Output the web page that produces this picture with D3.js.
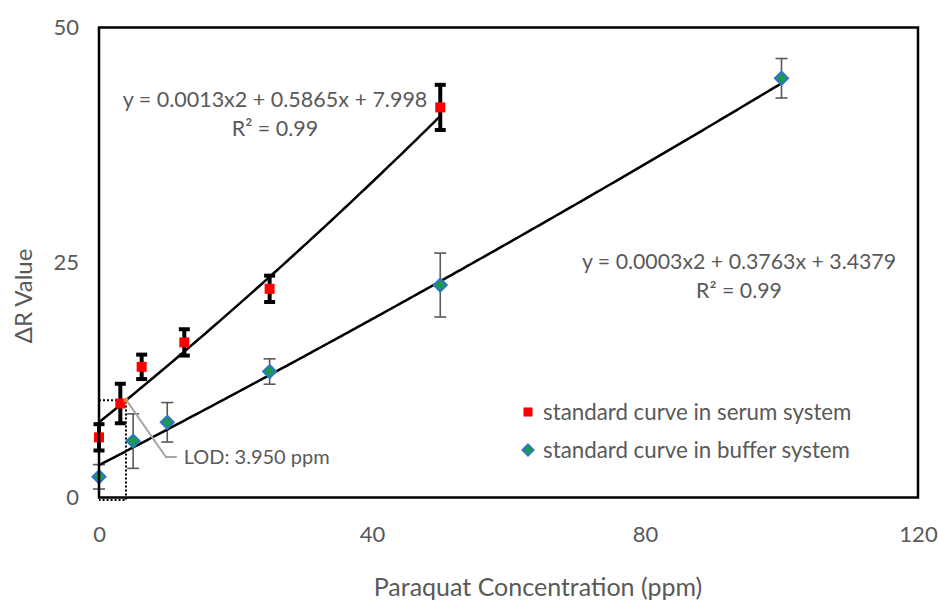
<!DOCTYPE html>
<html lang="en">
<head>
    <meta charset="UTF-8">
    <title>Paraquat standard curves</title>
    <script src="https://d3js.org/d3.v7.min.js"></script>
    <style>
        body { margin: 0; background: #fff; }
        svg text { font-family: Lato, "Open Sans", sans-serif; fill: #595959; }
    </style>
</head>
<body>
    <div id="chart"></div>
    <script>
        // serum system (red squares)
        var serumX = [0, 3.125, 6.25, 12.5, 25, 50];
        var serumY = [6.4, 10.0, 13.9, 16.5, 22.2, 41.5];
        var serumErr = [1.4, 2.1, 1.3, 1.4, 1.4, 2.4];
        var serumFit = [0.0013, 0.5865, 7.998];   // a, b, c  (y = a x^2 + b x + c)

        // buffer system (diamonds)
        var bufferX = [0, 5, 10, 25, 50, 100];
        var bufferY = [2.2, 6.0, 8.0, 13.4, 22.6, 44.6];
        var bufferErr = [1.3, 2.9, 2.1, 1.35, 3.4, 2.1];
        var bufferFit = [0.0003, 0.3763, 3.4379];

        var xTicks = [0, 40, 80, 120];
        var yTicks = [0, 25, 50];
        var lod = 3.95;

        var width = 938, height = 604;
        var margin = { left: 99, right: 20, top: 27.5, bottom: 106.5 };

        var svg = d3.select("#chart").append("svg")
            .attr("width", width)
            .attr("height", height);

        var x = d3.scaleLinear().domain([0, 120]).range([margin.left, width - margin.right]);
        var y = d3.scaleLinear().domain([0, 50]).range([height - margin.bottom, margin.top]);

        function quad(f) { return function(v) { return f[0] * v * v + f[1] * v + f[2]; }; }
        var serumCurve = quad(serumFit);
        var bufferCurve = quad(bufferFit);

        // axis labels (no tick marks, Excel style)
        svg.append("g")
            .attr("transform", "translate(" + margin.left + ",0)")
            .call(d3.axisLeft(y).tickValues(yTicks).tickSize(0).tickPadding(20))
            .call(g => g.select(".domain").remove())
            .selectAll("text").style("font-size", "22px").style("fill", "#595959")
            .style("font-family", "Lato, sans-serif");

        svg.append("g")
            .attr("transform", "translate(0," + y(0) + ")")
            .call(d3.axisBottom(x).tickValues(xTicks).tickSize(0).tickPadding(29))
            .call(g => g.select(".domain").remove())
            .selectAll("text").style("font-size", "22px").style("fill", "#595959")
            .style("font-family", "Lato, sans-serif");

        svg.append("text")
            .attr("transform", "translate(24,296) rotate(-90)")
            .attr("text-anchor", "middle")
            .attr("dy", "0.35em")
            .style("font-size", "24px")
            .text("ΔR Value");

        svg.append("text")
            .attr("x", 538)
            .attr("y", 587)
            .attr("text-anchor", "middle")
            .attr("dy", "0.35em")
            .style("font-size", "25px")
            .text("Paraquat Concentration (ppm)");

        // LOD guide (dotted box)
        svg.append("path")
            .attr("d", "M" + x(0) + "," + y(serumCurve(lod)) +
                       "H" + x(lod) + "V" + (y(0) + 2.5) + "H" + x(0))
            .attr("fill", "none")
            .attr("stroke", "#000")
            .attr("stroke-width", 2)
            .attr("stroke-dasharray", "2,2");

        // error bars
        function errorBars(xs, ys, es, cls, color, sw, cap) {
            var g = svg.append("g").attr("class", cls)
                .attr("stroke", color).attr("stroke-width", sw);
            xs.forEach(function(v, i) {
                var cx = x(v), t = y(ys[i] + es[i]), b = y(ys[i] - es[i]);
                g.append("line").attr("x1", cx).attr("x2", cx).attr("y1", t).attr("y2", b);
                g.append("line").attr("x1", cx - cap / 2).attr("x2", cx + cap / 2).attr("y1", t).attr("y2", t);
                g.append("line").attr("x1", cx - cap / 2).attr("x2", cx + cap / 2).attr("y1", b).attr("y2", b);
            });
        }
        errorBars(serumX, serumY, serumErr, "err-serum", "#000", 4, 11);
        errorBars(bufferX, bufferY, bufferErr, "err-buffer", "#595959", 1.6, 12);

        // trendlines
        var line = d3.line().x(d => x(d[0])).y(d => y(d[1]));
        svg.append("path")
            .datum(d3.range(0, 50.01, 0.5).map(v => [v, serumCurve(v)]))
            .attr("d", line).attr("fill", "none").attr("stroke", "#000").attr("stroke-width", 2.5);
        svg.append("path")
            .datum(d3.range(0, 100.01, 0.5).map(v => [v, bufferCurve(v)]))
            .attr("d", line).attr("fill", "none").attr("stroke", "#000").attr("stroke-width", 2.5);

        // markers
        svg.selectAll(".sq")
            .data(serumX.map((v, i) => [v, serumY[i]]))
            .enter().append("rect")
            .attr("class", "sq")
            .attr("x", d => x(d[0]) - 5).attr("y", d => y(d[1]) - 5)
            .attr("width", 10).attr("height", 10)
            .attr("fill", "#ff0000");

        var diamond = "M0,-6.5L6.5,0L0,6.5L-6.5,0Z";
        svg.selectAll(".dm")
            .data(bufferX.map((v, i) => [v, bufferY[i]]))
            .enter().append("path")
            .attr("class", "dm")
            .attr("transform", d => "translate(" + x(d[0]) + "," + y(d[1]) + ")")
            .attr("d", diamond)
            .attr("fill", "#1a9a4a")
            .attr("stroke", "#2e75c6")
            .attr("stroke-width", 2);

        // LOD point and callout
        svg.append("circle")
            .attr("cx", x(lod)).attr("cy", y(serumCurve(lod)))
            .attr("r", 2.5).attr("fill", "#ed7d31");

        svg.append("path")
            .attr("d", "M" + (x(lod) + 2) + "," + (y(serumCurve(lod)) + 2) +
                       "L" + x(9.8) + "," + y(4.3) + "H" + x(11.4))
            .attr("fill", "none")
            .attr("stroke", "#a6a6a6")
            .attr("stroke-width", 2);

        svg.append("text")
            .attr("x", x(12.4)).attr("y", y(4.3))
            .attr("dy", "0.35em")
            .style("font-size", "20px")
            .text("LOD: 3.950 ppm");

        // trendline equations
        function equation(cx, cy, eq, size) {
            var t = svg.append("text")
                .attr("text-anchor", "middle")
                .style("font-size", size + "px");
            t.append("tspan").attr("x", cx).attr("y", cy).attr("dy", "0.35em").text(eq);
            t.append("tspan").attr("x", cx).attr("y", cy + 29).attr("dy", "0.35em").text("R² = 0.99");
        }
        equation(275, 99, "y = 0.0013x2 + 0.5865x + 7.998", 21.5);
        equation(739, 262, "y = 0.0003x2 + 0.3763x + 3.4379", 21.3);

        // legend
        var legend = svg.append("g").attr("transform", "translate(528,412)");
        legend.append("rect").attr("x", -4.5).attr("y", -4.5).attr("width", 9).attr("height", 9).attr("fill", "#ff0000");
        legend.append("text").attr("x", 15).attr("dy", "0.35em").style("font-size", "22.3px")
            .text("standard curve in serum system");
        legend.append("path").attr("transform", "translate(0,38)").attr("d", "M0,-5.5L5.5,0L0,5.5L-5.5,0Z")
            .attr("fill", "#1a9a4a").attr("stroke", "#2e75c6").attr("stroke-width", 2);
        legend.append("text").attr("x", 15).attr("y", 38).attr("dy", "0.35em").style("font-size", "22.3px")
            .text("standard curve in buffer system");

        // plot border drawn last
        svg.append("rect")
            .attr("x", x(0)).attr("y", y(50))
            .attr("width", x(120) - x(0)).attr("height", y(0) - y(50))
            .attr("fill", "none")
            .attr("stroke", "#000")
            .attr("stroke-width", 2.5);
    </script>
</body>
</html>
